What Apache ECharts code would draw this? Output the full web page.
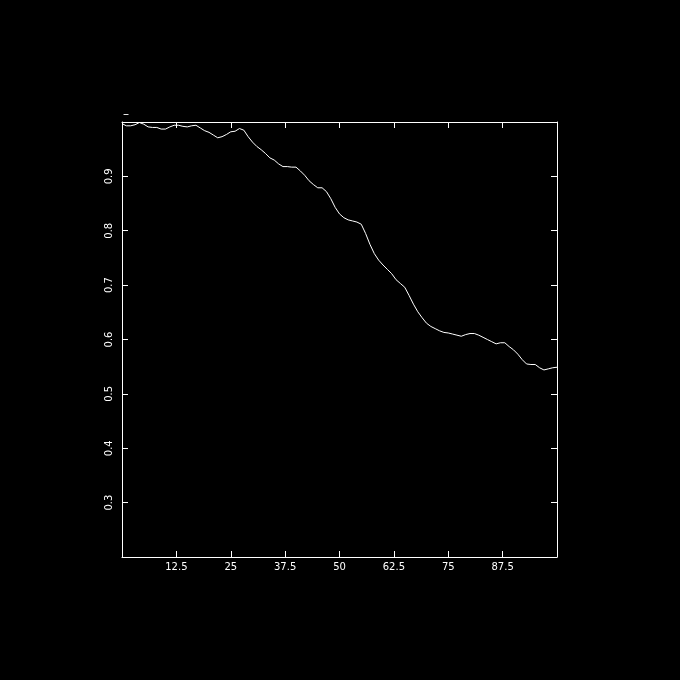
<!DOCTYPE html>
<html>
<head>
<meta charset="utf-8">
<script src="https://cdn.jsdelivr.net/npm/echarts@6/dist/echarts.min.js"></script>
<style>
html,body{margin:0;padding:0;background:#000;}
#c{width:680px;height:680px;}
</style>
</head>
<body>
<div id="c"></div>
<script>
const xValues = [];
for (let i = 0; i <= 100; i++) xValues.push(i);
const yValues = [
0.997,0.993,0.993,0.995,0.999,0.996,0.991,0.990,0.990,0.987,
0.987,0.991,0.994,0.994,0.992,0.991,0.993,0.994,0.989,0.984,
0.981,0.976,0.971,0.973,0.977,0.982,0.983,0.988,0.985,0.973,
0.963,0.955,0.949,0.942,0.934,0.930,0.923,0.918,0.918,0.917,
0.917,0.910,0.902,0.892,0.885,0.879,0.879,0.872,0.859,0.843,
0.831,0.824,0.820,0.818,0.816,0.812,0.795,0.775,0.758,0.746,
0.737,0.729,0.721,0.710,0.703,0.696,0.681,0.665,0.651,0.640,
0.630,0.624,0.620,0.616,0.613,0.612,0.610,0.608,0.606,0.609,
0.611,0.611,0.608,0.604,0.600,0.596,0.592,0.594,0.594,0.587,
0.581,0.573,0.563,0.555,0.554,0.554,0.548,0.544,0.546,0.548,
0.549
];
const titleText = '–';

const chart = echarts.init(document.getElementById('c'));
function axisBase() {
  return {
    type: 'value',
    axisLine: { show: true, onZero: false, lineStyle: { color: '#fff', width: 1 } },
    axisTick: { show: true, inside: true, length: 6, lineStyle: { color: '#fff', width: 1 } },
    splitLine: { show: false }
  };
}
const labelStyle = { color: '#fff', fontFamily: 'DejaVu Sans', fontSize: 10 };
chart.setOption({
  backgroundColor: '#000',
  animation: false,
  title: { text: titleText, left: 118, top: 104, textStyle: { color: '#fff', fontSize: 12, fontWeight: 'normal', fontFamily: 'DejaVu Sans' } },
  grid: { left: 122, top: 122, width: 435, height: 435 },
  xAxis: [
    Object.assign(axisBase(), { position: 'bottom', min: 0, max: 100, interval: 12.5,
      axisLabel: Object.assign({ showMinLabel: false, showMaxLabel: false, margin: 5 }, labelStyle) }),
    Object.assign(axisBase(), { position: 'top', min: 0, max: 100, interval: 12.5, axisLabel: { show: false } })
  ],
  yAxis: [
    Object.assign(axisBase(), { position: 'left', min: 0.2, max: 1.0, interval: 0.1,
      axisLabel: Object.assign({ showMinLabel: false, showMaxLabel: false, rotate: 90, margin: 8,
        formatter: v => String(Math.round(v * 10) / 10) }, labelStyle) }),
    Object.assign(axisBase(), { position: 'right', min: 0.2, max: 1.0, interval: 0.1, axisLabel: { show: false } })
  ],
  series: [{
    type: 'line',
    data: xValues.map((x, i) => [x, yValues[i]]),
    showSymbol: false,
    lineStyle: { color: '#fff', width: 1 },
    silent: true
  }]
});
</script>
</body>
</html>
